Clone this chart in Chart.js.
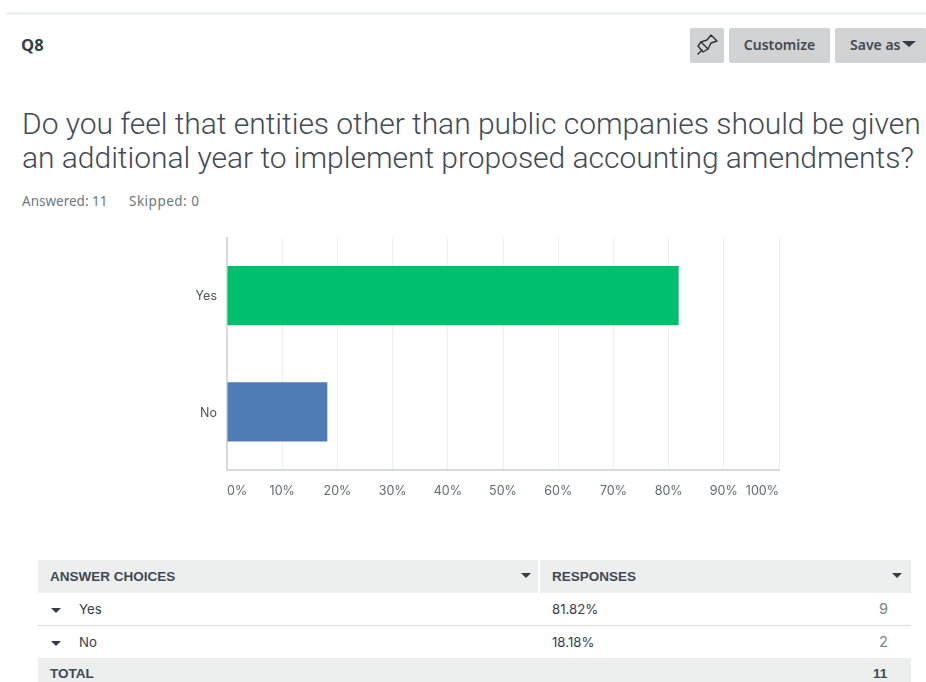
<!DOCTYPE html>
<html>
<head>
<meta charset="utf-8">
<script src="https://cdn.jsdelivr.net/npm/chart.js@4"></script>
<style>
  html, body { margin: 0; padding: 0; background: #fff; }
  body { width: 926px; height: 682px; overflow: hidden; position: relative; font-family: "Roboto", sans-serif; color: #333e48; }
  .abs { position: absolute; white-space: nowrap; }
  .rule { left: 6px; top: 12px; width: 920px; height: 3px; background: #eff0f0; }
  .qno { left: 21px; top: 35px; font: 700 16.5px/20px "Open Sans", sans-serif; color: #333e48; }
  .btn { top: 28px; height: 35px; background: #d0d2d3; border-radius: 2px; color: #3f4a55; font: 600 14px/34px "Noto Sans", sans-serif; text-align: center; }
  .title { left: 22px; top: 107px; font: 300 30px/34px "Roboto", sans-serif; letter-spacing: -0.03px; color: #3f4b57; }
  .meta { top: 193px; font: 400 13.5px/17px "Noto Sans", sans-serif; color: #6b7780; }
  #plot { position: absolute; left: 180px; top: 228px; width: 620px; height: 282px; }
  .cell { font: 400 13.2px/20px "Inter", sans-serif; color: #333e48; }
  .head { font: 700 13.5px/20px "Liberation Sans", sans-serif; color: #3f4a55; }
  .band { left: 38px; width: 873px; background: #edeeee; }
  .sep { left: 38px; width: 873px; height: 1px; background: #d9dbdb; }
  .tri { width: 0; height: 0; border-left: 5px solid transparent; border-right: 5px solid transparent; border-top: 5px solid #333e48; }
</style>
</head>
<body>
<div class="abs rule"></div>
<div class="abs qno">Q8</div>
<div class="abs btn" style="left:690px;width:34px">
  <svg width="34" height="35" viewBox="0 0 34 35" fill="none" stroke="#2b333b" stroke-width="1.4" stroke-linejoin="round" stroke-linecap="round">
    <path d="M21 7 L27 13 L21 15 L18 21 L11 14 L17 12 Z"/>
    <path d="M11 14 L8 18 L13 24 L18 21"/>
    <path d="M12 22 L8 26"/>
  </svg>
</div>
<div class="abs btn" style="left:729px;width:101px">Customize</div>
<div class="abs btn" style="left:835px;width:91px;text-align:left;text-indent:15px">Save as</div>
<div class="abs tri" style="left:902px;top:41px;border-left-width:7px;border-right-width:7px;border-top-width:6px"></div>

<div class="abs title">Do you feel that entities other than public companies should be given<br>an additional year to implement proposed accounting amendments?</div>
<div class="abs meta" style="left:22px">Answered: 11</div>
<div class="abs meta" style="left:129px;letter-spacing:0.5px">Skipped: 0</div>

<div id="plot"><canvas id="chart" width="620" height="282"></canvas></div>

<div class="abs band" style="top:560px;height:33px"></div>
<div class="abs" style="left:538px;top:560px;width:1.5px;height:33px;background:#fff"></div>
<div class="abs head" id="headChoice" style="left:50px;top:567px"></div>
<div class="abs tri" style="left:521px;top:573px"></div>
<div class="abs head" id="headResp" style="left:552px;top:567px"></div>
<div class="abs tri" style="left:892px;top:573px"></div>
<div id="rows"></div>
<div class="abs band" style="top:658px;height:24px"></div>
<div class="abs head" id="totalLabel" style="left:50px;top:664px"></div>
<div class="abs head" id="totalCount" style="left:873px;top:664px"></div>

<script>
// Survey results for question 8
const categories = ["Yes", "No"];
const percentages = [81.82, 18.18];
const counts = [9, 2];
const barColors = ["#00bf6f", "#507cb6"];
const totalResponses = 11;
const tableHeaders = ["ANSWER CHOICES", "RESPONSES", "TOTAL"];

// Results table under the chart
document.getElementById("headChoice").textContent = tableHeaders[0];
document.getElementById("headResp").textContent = tableHeaders[1];
document.getElementById("totalLabel").textContent = tableHeaders[2];
document.getElementById("totalCount").textContent = totalResponses;

const rowsEl = document.getElementById("rows");
categories.forEach((name, i) => {
  const y = 593 + i * 32.5;
  rowsEl.insertAdjacentHTML("beforeend",
    `<div class="abs tri" style="left:51px;top:${y + 15}px"></div>` +
    `<div class="abs cell" style="left:79px;top:${y + 6}px">${name}</div>` +
    `<div class="abs cell" style="left:552px;top:${y + 6}px">${percentages[i].toFixed(2)}%</div>` +
    `<div class="abs cell" style="left:879px;top:${y + 6}px;color:#7c858c;font-size:14.5px">${counts[i]}</div>`);
  if (i === 0) rowsEl.insertAdjacentHTML("beforeend", `<div class="abs sep" style="top:625px"></div>`);
});

// Horizontal bar chart of the response shares
new Chart(document.getElementById("chart"), {
  type: "bar",
  data: {
    labels: categories,
    datasets: [{ data: percentages, backgroundColor: barColors, borderWidth: 0, categoryPercentage: 0.51, barPercentage: 1 }]
  },
  options: {
    indexAxis: "y",
    responsive: false,
    animation: false,
    layout: { padding: { top: 0, right: 21, left: 0, bottom: 0 } },
    plugins: { legend: { display: false }, tooltip: { enabled: false } },
    scales: {
      x: {
        min: 0,
        max: 100,
        afterFit(scale) { scale.height = 40; },
        grid: { color: "#eeefef", lineWidth: 1, drawTicks: false, drawOnChartArea: true },
        border: { color: "#d9dbdb", width: 2 },
        ticks: {
          stepSize: 10,
          padding: 14,
          align: "inner",
          maxRotation: 0,
          autoSkip: false,
          color: "#5f6b74",
          font: { family: "Inter", size: 12.5 },
          callback: v => v + "%"
        }
      },
      y: {
        afterFit(scale) { scale.width = 47; },
        grid: { display: false },
        border: { color: "#d9dbdb", width: 2 },
        ticks: {
          padding: 2,
          labelOffset: 1,
          color: "#4a545d",
          font: { family: "Inter", size: 12.5 }
        }
      }
    }
  }
});
</script>
</body>
</html>
